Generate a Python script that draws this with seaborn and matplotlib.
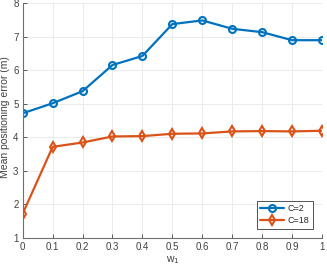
import matplotlib
matplotlib.use("Agg")
import matplotlib.pyplot as plt
import seaborn as sns
import pandas as pd

w1 = [0, 0.1, 0.2, 0.3, 0.4, 0.5, 0.6, 0.7, 0.8, 0.9, 1.0]
err_c2 = [4.71, 5.01, 5.37, 6.15, 6.42, 7.37, 7.48, 7.23, 7.13, 6.89, 6.89]
err_c18 = [1.72, 3.71, 3.84, 4.02, 4.03, 4.10, 4.11, 4.17, 4.18, 4.17, 4.19]
series_names = ["C=2", "C=18"]
colors = ["#0072BD", "#D95319"]
markers = ["o", "d"]
xticks = [0, 0.1, 0.2, 0.3, 0.4, 0.5, 0.6, 0.7, 0.8, 0.9, 1]
xticklabels = ["0", "0.1", "0.2", "0.3", "0.4", "0.5", "0.6", "0.7", "0.8", "0.9", "1"]
yticks = [1, 2, 3, 4, 5, 6, 7, 8]

sns.set_style("white")
plt.rcParams['font.family'] = ['Liberation Sans', 'DejaVu Sans']

df = pd.DataFrame({
    "w1": w1 * 2,
    "err": err_c2 + err_c18,
    "series": [series_names[0]] * len(w1) + [series_names[1]] * len(w1),
})

fig = plt.figure(figsize=(3.27, 2.70), dpi=100)
ax = fig.add_axes([0.0695, 0.1195, 0.915, 0.8695])

for name, col, mk in zip(series_names, colors, markers):
    sub = df[df["series"] == name]
    sns.lineplot(data=sub, x="w1", y="err", ax=ax, color=col, marker=mk,
                 markersize=5, markerfacecolor="none", markeredgecolor=col,
                 markeredgewidth=1.5, linewidth=1.6, label=name)

ax.set_xlim(0, 1)
ax.set_ylim(1, 8)
ax.set_xticks(xticks)
ax.set_xticklabels(xticklabels)
ax.set_yticks(yticks)
ax.grid(True, color="#ebebeb", linewidth=0.7)
for s in ["top", "right"]:
    ax.spines[s].set_visible(False)
for s in ["left", "bottom"]:
    ax.spines[s].set_color("#707070")
    ax.spines[s].set_linewidth(0.8)
ax.tick_params(axis="both", direction="in", length=3, width=0.6, labelsize=7,
               colors="#404040", pad=3, bottom=True, left=True)
ax.set_xlabel("w$_1$", fontsize=7.5, color="#404040", labelpad=2)
ax.set_ylabel("Mean positioning error (m)", fontsize=7.5, color="#404040")
ax.yaxis.set_label_coords(-0.043, 0.515)

leg = ax.legend(loc="lower right", fontsize=6.5, frameon=True, fancybox=False,
                edgecolor="#262626", handlelength=2.6, borderpad=0.4,
                labelspacing=0.3, handletextpad=0.4, bbox_to_anchor=(0.985, 0.02))
leg.get_frame().set_linewidth(0.7)

fig.savefig("out.png", dpi=100)
